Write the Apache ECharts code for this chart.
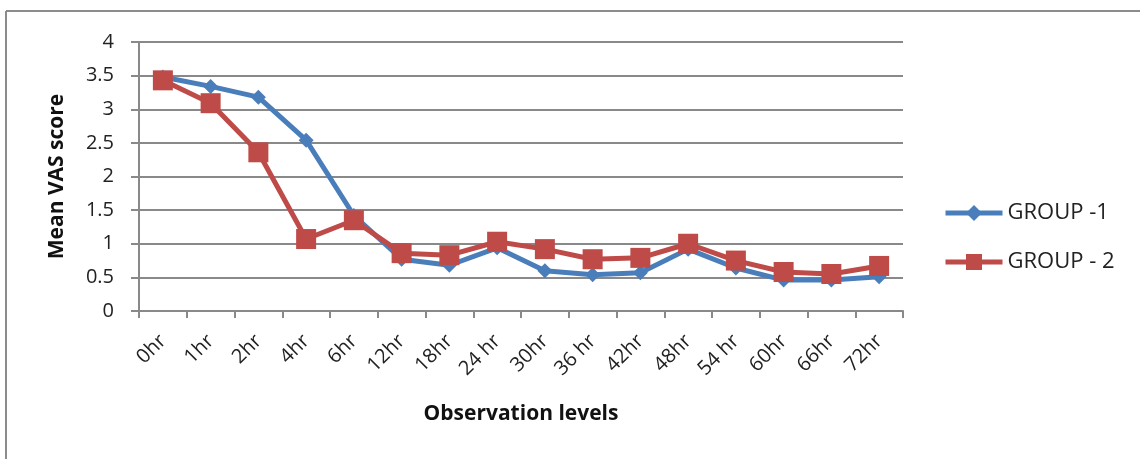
<!DOCTYPE html>
<html>
<head>
<meta charset="utf-8">
<script src="https://cdn.jsdelivr.net/npm/echarts@6/dist/echarts.min.js"></script>
<style>
html,body{margin:0;padding:0;background:#fff;}
#chart{width:1140px;height:459px;}
</style>
</head>
<body>
<div id="chart"></div>
<script>
var categories = ['0hr','1hr','2hr','4hr','6hr','12hr','18hr','24 hr','30hr','36 hr','42hr','48hr','54 hr','60hr','66hr','72hr'];
var group1 = [3.48, 3.34, 3.18, 2.54, 1.42, 0.77, 0.68, 0.94, 0.60, 0.54, 0.57, 0.92, 0.64, 0.46, 0.46, 0.51];
var group2 = [3.43, 3.09, 2.36, 1.07, 1.35, 0.86, 0.83, 1.03, 0.92, 0.77, 0.79, 1.00, 0.75, 0.58, 0.55, 0.67];
var seriesNames = ['GROUP -1', 'GROUP - 2'];
var yTicks = {min: 0, max: 4, interval: 0.5};

var FONT = '"Open Sans", "Noto Sans", sans-serif';
var GRID_COLOR = '#898989';
var chart = echarts.init(document.getElementById('chart'), null, {renderer: 'canvas'});
chart.setOption({
  backgroundColor: '#fff',
  animation: false,
  grid: {left: 139, right: 237, top: 42, bottom: 148, containLabel: false},
  legend: {
    orient: 'vertical',
    left: 943,
    top: 202,
    padding: 0,
    itemWidth: 57,
    itemHeight: 20,
    itemGap: 27,
    lineStyle: {width: 5},
    textStyle: {fontFamily: FONT, fontSize: 22, color: '#222'},
    data: seriesNames
  },
  xAxis: {
    type: 'category',
    data: categories,
    boundaryGap: true,
    name: 'Observation levels',
    nameLocation: 'middle',
    nameGap: 93,
    nameTextStyle: {fontFamily: FONT, fontSize: 21, fontWeight: 'bold', color: '#111'},
    axisLine: {lineStyle: {color: GRID_COLOR, width: 2}},
    axisTick: {show: true, length: 7, lineStyle: {color: GRID_COLOR, width: 2}},
    axisLabel: {rotate: 45, interval: 0, margin: 27, fontFamily: FONT, fontSize: 20, color: '#222'},
    splitLine: {show: false}
  },
  yAxis: {
    type: 'value',
    min: yTicks.min,
    max: yTicks.max,
    interval: yTicks.interval,
    name: 'Mean VAS score',
    nameLocation: 'middle',
    nameGap: 71,
    nameRotate: 90,
    nameTextStyle: {fontFamily: FONT, fontSize: 21, fontWeight: 'bold', color: '#111'},
    axisLine: {show: true, lineStyle: {color: GRID_COLOR, width: 2}},
    axisTick: {show: true, length: 8, lineStyle: {color: GRID_COLOR, width: 2}},
    axisLabel: {margin: 25, fontFamily: FONT, fontSize: 20, color: '#222'},
    splitLine: {show: true, lineStyle: {color: GRID_COLOR, width: 2}}
  },
  series: [
    {
      name: seriesNames[0],
      type: 'line',
      data: group1,
      color: '#4A7EBB',
      symbol: 'diamond',
      symbolSize: 15,
      showAllSymbol: true,
      lineStyle: {width: 5, color: '#4A7EBB'},
      itemStyle: {color: '#4A7EBB'},
      z: 2
    },
    {
      name: seriesNames[1],
      type: 'line',
      data: group2,
      color: '#BE4B48',
      symbol: 'rect',
      symbolSize: 20,
      showAllSymbol: true,
      lineStyle: {width: 5, color: '#BE4B48'},
      itemStyle: {color: '#BE4B48'},
      z: 3
    }
  ],
  graphic: [
    {type: 'line', shape: {x1: 6, y1: 11, x2: 1140, y2: 11}, style: {stroke: '#8c8c8c', lineWidth: 2}, silent: true},
    {type: 'line', shape: {x1: 6, y1: 11, x2: 6, y2: 459}, style: {stroke: '#8c8c8c', lineWidth: 2}, silent: true}
  ]
});
</script>
</body>
</html>
